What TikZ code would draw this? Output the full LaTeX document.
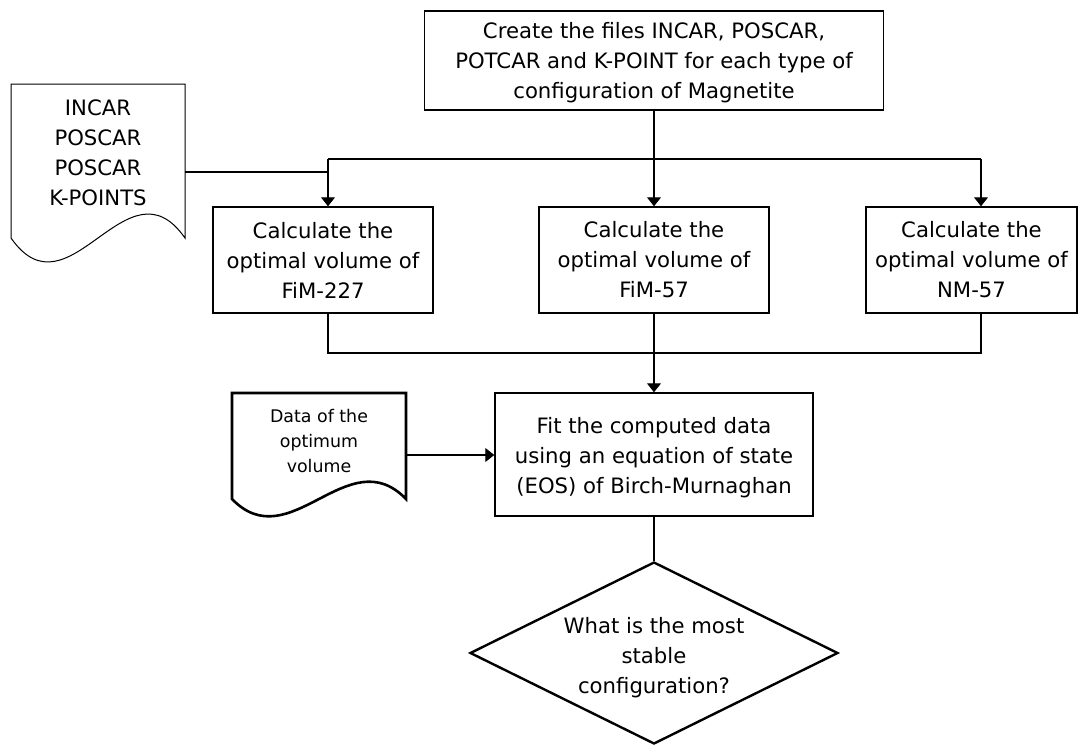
\documentclass[tikz,border=0pt]{standalone}
\usepackage{fontspec}
\setmainfont{DejaVu Sans}
\usetikzlibrary{shapes.geometric,arrows.meta}

% invisible strut on a first line, to set how far the text block sits down
\newcommand\toplift[1]{\rule{0pt}{#1}}

\begin{document}
\begin{tikzpicture}[x=1pt,y=-1pt,
  txt/.style={align=center,font=\fontsize{21.2}{30}\selectfont,inner sep=0pt},
  smalltxt/.style={align=center,font=\fontsize{17.4}{25}\selectfont,inner sep=0pt},
  procbox/.style={txt,draw,line width=1.5pt,rectangle},
  decision/.style={txt,draw,line width=2.4pt,diamond,aspect=2},
  link/.style={line width=1.1pt},
  arr/.style={link,-{Triangle[width=14pt,length=9pt]}},
  thindoc/.style={draw,line width=1pt},
  thickdoc/.style={draw,line width=2.6pt,line join=miter}]
\useasboundingbox (0,0) rectangle (1078,744);
\fill[white] (0,0) rectangle (1078,744);

% process steps
\node[procbox,minimum width=459pt,minimum height=99pt] (create) at (654,60.5)
  {\toplift{20pt}Create the files INCAR, POSCAR,\\POTCAR and K-POINT for each type of\\configuration of Magnetite};
\node[procbox,minimum width=220pt,minimum height=106pt] (fim227) at (323,260)
  {Calculate the\\optimal volume of\\FiM-227};
\node[procbox,minimum width=230pt,minimum height=106pt] (fim57) at (654,260)
  {Calculate the\\optimal volume of\\FiM-57};
\node[procbox,minimum width=211pt,minimum height=106pt] (nm57) at (971.5,260)
  {Calculate the\\optimal volume of\\NM-57};
\node[procbox,minimum width=318pt,minimum height=123pt] (fit) at (654,454.5)
  {\toplift{22pt}Fit the computed data\\using an equation of state\\(EOS) of Birch-Murnaghan};
\node[decision,minimum width=368pt,minimum height=182pt] (stable) at (654,653)
  {\toplift{25pt}What is the most\\stable\\configuration?};

% input files document
\draw[thindoc] (11,84) -- (185,84) -- (185,238)
  .. controls (127,155) and (69,321) .. (11,238) -- cycle;
\node[txt] (files) at (98,153) {INCAR\\POSCAR\\POSCAR\\K-POINTS};
\coordinate (filesR) at (185,172);

% optimum volume data document
\draw[thickdoc] (232,393) -- (406,393) -- (406,499)
  .. controls (348,439) and (290,559) .. (232,499) -- cycle;
\node[smalltxt] (data) at (319,441) {Data of the\\optimum\\volume};
\coordinate (dataR) at (406,455);

% distribution bus
\coordinate (busL) at (328,159);
\coordinate (busR) at (981,159);
\draw[link] (busL) -- (busR);
\draw[arr] (create.south) -- (fim57.north);
\draw[arr] (busL) -- (busL |- fim227.north);
\draw[arr] (busR) -- (busR |- nm57.north);
\draw[link] (filesR) -- (filesR -| busL);

% collecting bus
\coordinate (colL) at (328,353);
\coordinate (colR) at (981,353);
\draw[link] (colL |- fim227.south) -- (colL) -- (colR) -- (colR |- nm57.south);
\draw[arr] (fim57.south) -- (fit.north);
\draw[arr] (dataR) -- (dataR -| fit.west);
\draw[link] (fit.south) -- (stable.north);
\end{tikzpicture}
\end{document}
